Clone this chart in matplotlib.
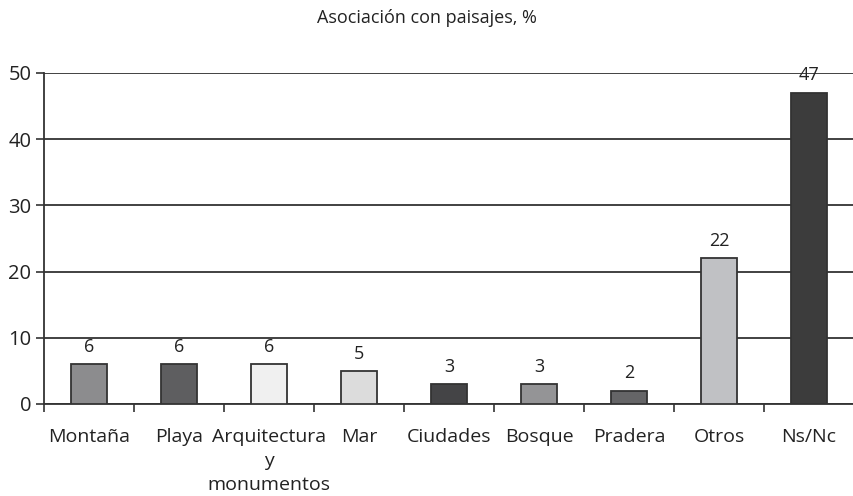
import matplotlib
matplotlib.use("Agg")
import matplotlib.pyplot as plt
import numpy as np

categories = ["Montaña", "Playa", "Arquitectura\ny\nmonumentos", "Mar", "Ciudades",
              "Bosque", "Pradera", "Otros", "Ns/Nc"]
values = [6, 6, 6, 5, 3, 3, 2, 22, 47]
colors = ["#8c8c8e", "#5e5e60", "#f0f0f0", "#dcdcdc", "#444446",
          "#949496", "#656567", "#c0c1c4", "#3c3c3c"]
yticks = [0, 10, 20, 30, 40, 50]
title = "Asociación con paisajes, %"

plt.rcParams['font.family'] = ['Open Sans', 'DejaVu Sans']

fig = plt.figure(figsize=(8.54, 4.96), dpi=100)
ax = fig.add_axes([0.0515, 0.1855, 0.9485, 0.6675])

x = np.arange(len(categories))
ax.bar(x, values, width=0.41, color=colors, edgecolor="#333333", linewidth=1.3, zorder=3)
for xi, v in zip(x, values):
    ax.annotate(str(v), (xi, v), xytext=(0, 6), textcoords="offset points",
                ha="center", va="bottom", fontsize=13, color="#222222", zorder=4)

ax.set_xlim(-0.5, len(categories) - 0.5)
ax.set_ylim(0, 50)
ax.set_yticks(yticks)
ax.set_yticklabels([str(t) for t in yticks], fontsize=14.5, color="#222222")
ax.yaxis.grid(True, color="#333333", linewidth=1.3, zorder=1)
ax.set_axisbelow(True)

ax.set_xticks(x)
ax.set_xticklabels(categories, fontsize=14, color="#222222", linespacing=1.45)
ax.tick_params(axis="x", length=0, pad=17)
ax.set_xticks(np.arange(len(categories)) - 0.5, minor=True)
ax.tick_params(axis="x", which="minor", length=6, width=1.2, color="#333333", direction="out")
ax.tick_params(axis="y", length=6, width=1.2, color="#333333", direction="out", pad=3)

for s in ["top", "right"]:
    ax.spines[s].set_visible(False)
for s in ["left", "bottom"]:
    ax.spines[s].set_color("#333333")
    ax.spines[s].set_linewidth(1.3)

fig.text(0.5, 0.963, title, ha="center", va="center", fontsize=13, color="#222222")

fig.savefig("out.png", dpi=100)
